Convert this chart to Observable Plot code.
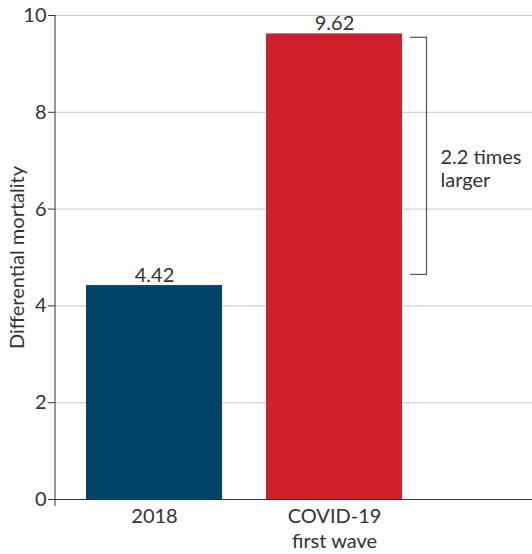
<!DOCTYPE html>
<html>
<head>
<meta charset="utf-8">
<script src="https://cdn.jsdelivr.net/npm/d3@7"></script>
<script src="https://cdn.jsdelivr.net/npm/@observablehq/plot@0.6"></script>
<style>
  html, body { margin: 0; padding: 0; background: #fff; }
</style>
</head>
<body>
<div id="chart"></div>
<script>
const categories = ["2018", "COVID-19\nfirst wave"];
const values = [4.42, 9.62];
const barColors = ["#00446a", "#cf202e"];
const yTicks = [0, 2, 4, 6, 8, 10];
const bracketRange = [4.65, 9.55];
const bracketLabel = "2.2 times\nlarger";
const yLabel = "Differential mortality";

const data = categories.map((c, i) => ({category: c, value: values[i], color: barColors[i]}));

const axisLine = (index, scales, vals, dims) => {
  const x = dims.marginLeft;
  return d3.create("svg:line")
    .attr("x1", x).attr("x2", x)
    .attr("y1", dims.marginTop)
    .attr("y2", dims.height - dims.marginBottom + 7)
    .attr("stroke", "#333")
    .attr("stroke-width", 1)
    .node();
};

const chart = Plot.plot({
  width: 532,
  height: 554,
  marginLeft: 55,
  marginRight: 0,
  marginTop: 15,
  marginBottom: 55,
  style: {fontFamily: "Lato, sans-serif", fontSize: "20px", color: "#333", background: "#fff"},
  x: {domain: categories, range: [55, 433], paddingInner: 0.2444, paddingOuter: 0.1722},
  y: {domain: [0, 10]},
  marks: [
    Plot.ruleY(yTicks.filter(d => d > 0), {stroke: "#c8c8c8", strokeWidth: 1}),
    Plot.barY(data, {x: "category", y: "value", fill: "color"}),
    Plot.text(data, {x: "category", y: "value", text: d => d.value.toFixed(2), lineAnchor: "bottom", dy: -4, fill: "#333"}),
    Plot.ruleY([0], {stroke: "#333", strokeWidth: 1}),
    axisLine,
    Plot.axisY({ticks: yTicks, tickSize: 7, tickPadding: 2, label: yLabel, labelAnchor: "center", labelArrow: "none", labelOffset: 46, stroke: "#333", fill: "#333"}),
    Plot.axisX({tickSize: 0, tickPadding: 6.5, label: null, fill: "#333", lineHeight: 1.22}),
    Plot.ruleX([categories[1]], {y1: bracketRange[0], y2: bracketRange[1], dx: 92, stroke: "#555", strokeWidth: 1.2}),
    Plot.tickY(bracketRange, {x: () => categories[1], y: d => d, dx: 144, insetRight: 119, stroke: "#555", strokeWidth: 1.2}),
    Plot.text([bracketLabel], {x: () => categories[1], y: () => 6.84, text: d => d, dx: 106, textAnchor: "start", lineAnchor: "middle", lineHeight: 1.12, fill: "#333"})
  ]
});
document.getElementById("chart").appendChild(chart);
</script>
</body>
</html>
